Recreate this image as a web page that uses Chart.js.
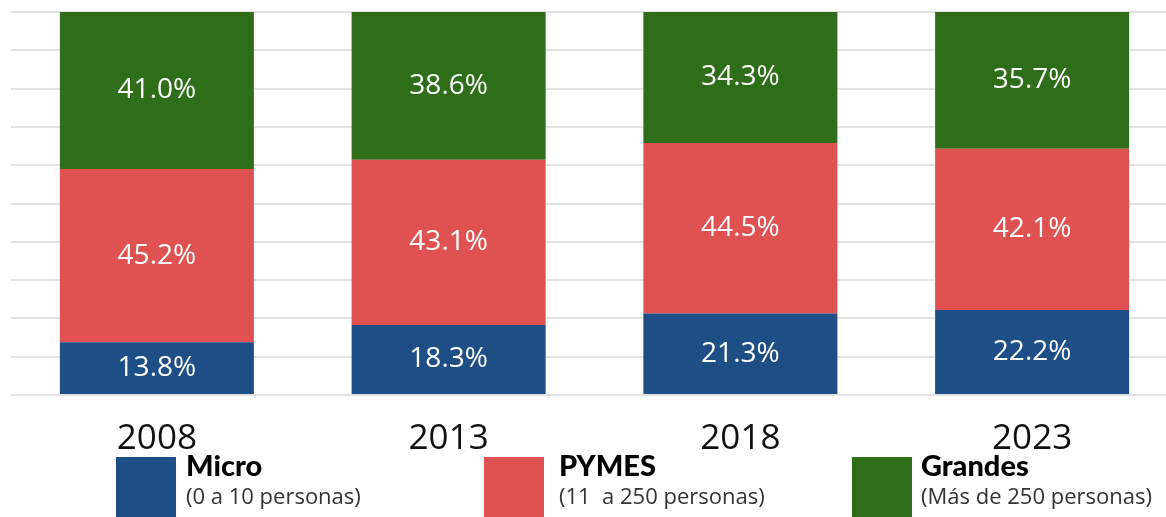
<!DOCTYPE html>
<html>
<head>
<meta charset="utf-8">
<script src="https://cdn.jsdelivr.net/npm/chart.js@4/dist/chart.umd.min.js"></script>
<style>
  html, body { margin: 0; padding: 0; background: #fff; width: 1166px; height: 517px; overflow: hidden; position: relative; }
  #wrap { position: absolute; left: 0; top: 0; width: 1190px; height: 517px; }
  .sw { position: absolute; top: 457px; width: 60px; height: 62px; }
  .lt { position: absolute; font-family: 'Lato', sans-serif; font-weight: 900; font-size: 29px; color: #000; line-height: 1; }
  .ls { position: absolute; font-family: 'Open Sans', sans-serif; font-size: 22px; color: #333; line-height: 1; white-space: pre; }
</style>
</head>
<body>
<div id="wrap"><canvas id="c" width="1190" height="517"></canvas></div>
<div id="legend"></div>
<script>
const categories = ['2008', '2013', '2018', '2023'];
const seriesNames = ['Micro', 'PYMES', 'Grandes'];
const seriesSub = ['(0 a 10 personas)', '(11  a 250 personas)', '(Más de 250 personas)'];
const micro = [13.8, 18.3, 21.3, 22.2];
const pymes = [45.2, 43.1, 44.5, 42.1];
const grandes = [41.0, 38.6, 34.3, 35.7];
const colors = ['#1e4e86', '#e05252', '#2e6e19'];

// legend (HTML)
const legendPos = [
  { sw: 116, tx: 186 },
  { sw: 484, tx: 559 },
  { sw: 852, tx: 921 }
];
const leg = document.getElementById('legend');
seriesNames.forEach((n, i) => {
  const p = legendPos[i];
  const s = document.createElement('div');
  s.className = 'sw'; s.style.left = p.sw + 'px'; s.style.background = colors[i];
  leg.appendChild(s);
  const t = document.createElement('div');
  t.className = 'lt'; t.style.left = p.tx + 'px'; t.style.top = '450px'; t.textContent = n;
  leg.appendChild(t);
  const u = document.createElement('div');
  u.className = 'ls'; u.style.left = p.tx + 'px'; u.style.top = '484px'; u.textContent = seriesSub[i];
  leg.appendChild(u);
});

const labelPlugin = {
  id: 'barLabels',
  afterDatasetsDraw(chart) {
    const ctx = chart.ctx;
    ctx.save();
    ctx.fillStyle = '#ffffff';
    ctx.font = '500 28px "Open Sans", sans-serif';
    ctx.textAlign = 'center';
    ctx.textBaseline = 'middle';
    chart.data.datasets.forEach((ds, di) => {
      const meta = chart.getDatasetMeta(di);
      meta.data.forEach((el, i) => {
        const v = ds.data[i];
        const y = (el.y + el.base) / 2;
        ctx.fillText(v.toFixed(1) + '%', el.x, y);
      });
    });
    ctx.restore();
  }
};

new Chart(document.getElementById('c'), {
  type: 'bar',
  data: {
    labels: categories,
    datasets: [
      { label: seriesNames[0], data: micro, backgroundColor: colors[0] },
      { label: seriesNames[1], data: pymes, backgroundColor: colors[1] },
      { label: seriesNames[2], data: grandes, backgroundColor: colors[2] }
    ]
  },
  options: {
    responsive: false,
    animation: false,
    layout: { padding: { left: 11, right: 12, top: 12, bottom: 0 } },
    plugins: { legend: { display: false }, tooltip: { enabled: false } },
    datasets: { bar: { categoryPercentage: 1, barPercentage: 0.665 } },
    scales: {
      x: {
        stacked: true,
        grid: { display: false },
        border: { display: false },
        ticks: { color: '#111', font: { family: 'Open Sans', size: 35 }, padding: 15 },
        afterFit(s) { s.height = 122; }
      },
      y: {
        stacked: true,
        min: 0, max: 100,
        ticks: { display: false, stepSize: 10 },
        border: { display: false },
        grid: { color: '#e2e2e2', lineWidth: 2, drawTicks: false },
        afterFit(s) { s.width = 0; }
      }
    }
  },
  plugins: [labelPlugin]
});
</script>
</body>
</html>
